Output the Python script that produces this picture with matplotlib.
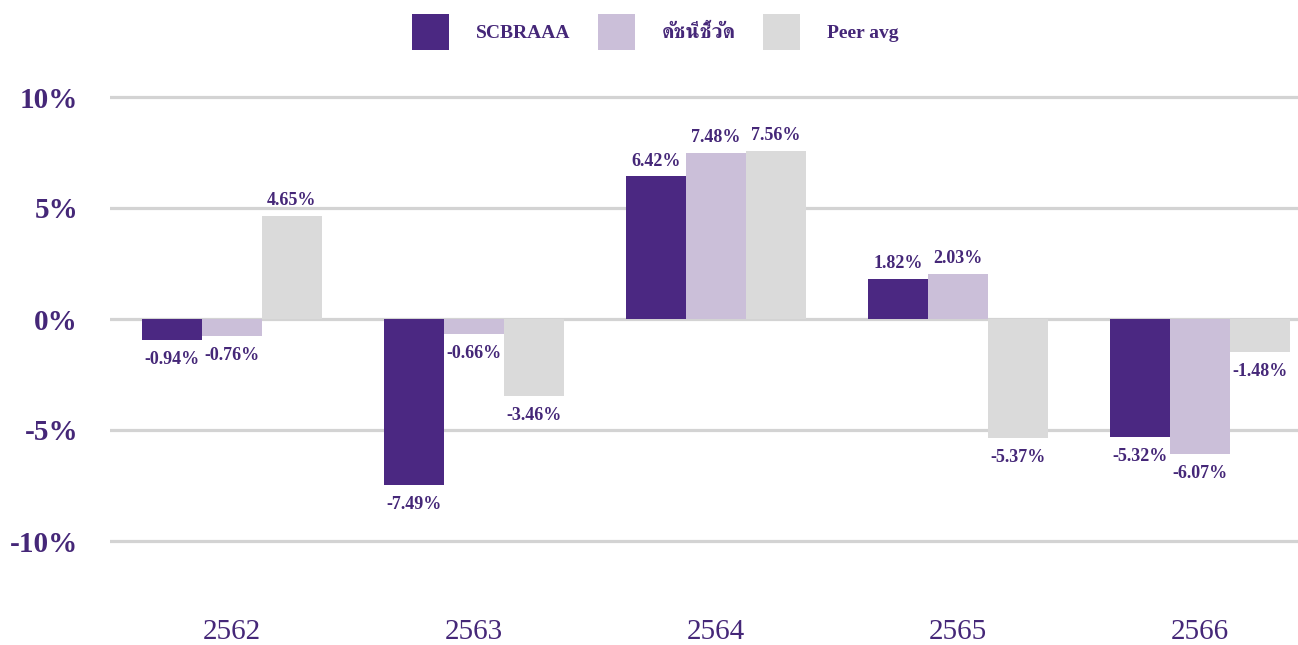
import matplotlib
matplotlib.use("Agg")
import matplotlib.pyplot as plt
from matplotlib import font_manager
import numpy as np

# datos
years = ["2562", "2563", "2564", "2565", "2566"]
series_names = ["SCBRAAA", "ดัชนีชี้วัด", "Peer avg"]
scbraaa = [-0.94, -7.49, 6.42, 1.82, -5.32]
benchmark = [-0.76, -0.66, 7.48, 2.03, -6.07]
peer_avg = [4.65, -3.46, 7.56, -5.37, -1.48]
y_ticks = [-10, -5, 0, 5, 10]

colors = ["#4B2882", "#CBBFD9", "#DADADA"]
text_color = "#452778"

# registrar FreeSerif (tiene glifos tailandeses)
for p in font_manager.findSystemFonts():
    if p.endswith("FreeSerif.ttf") or p.endswith("FreeSerifBold.ttf"):
        font_manager.fontManager.addfont(p)

plt.rcParams["font.family"] = ["Liberation Serif", "FreeSerif", "DejaVu Sans"]

fig = plt.figure(figsize=(12.98, 6.45), dpi=100)
ax = fig.add_axes([110 / 1298, (645 - 585.4) / 645, 1 - 110 / 1298, 532.8 / 645])

x = np.arange(len(years))
w = 0.248
all_series = [scbraaa, benchmark, peer_avg]
for i, (vals, name) in enumerate(zip(all_series, series_names)):
    bars = ax.bar(x + (i - 1) * w, vals, width=w, color=colors[i], label=name, zorder=3)
    for b, v in zip(bars, vals):
        xc = b.get_x() + b.get_width() / 2
        off = 5 if v >= 0 else -8
        ax.annotate(f"{v:.2f}%", (xc, v), xytext=(0, off), textcoords="offset points",
                    ha="center", va="bottom" if v >= 0 else "top",
                    fontsize=13, fontweight="bold", color=text_color, zorder=4)

ax.set_xlim(-0.504, 4.405)
ax.set_ylim(-12, 12)
ax.set_yticks(y_ticks)
ax.set_yticklabels([f"{t}%" for t in y_ticks], fontsize=21, fontweight="bold", color=text_color)
ax.set_xticks(x)
ax.set_xticklabels(years, fontsize=21, color=text_color)
ax.tick_params(axis="both", length=0)
ax.tick_params(axis="y", pad=23)
ax.tick_params(axis="x", pad=24)
ax.grid(axis="y", color="#D3D3D3", linewidth=2.3, zorder=0)
ax.set_axisbelow(True)
for s in ax.spines.values():
    s.set_visible(False)

leg = fig.legend(loc="upper center", bbox_to_anchor=(0.505, 1.0), ncol=3, frameon=False,
                 prop={"size": 14, "weight": "bold"}, handlelength=1.9, handleheight=2.5,
                 handletextpad=1.4, columnspacing=1.4, borderaxespad=0.3)
for t in leg.get_texts():
    t.set_color(text_color)
leg.get_texts()[1].set_fontsize(15)

fig.savefig("out.png", dpi=100)
